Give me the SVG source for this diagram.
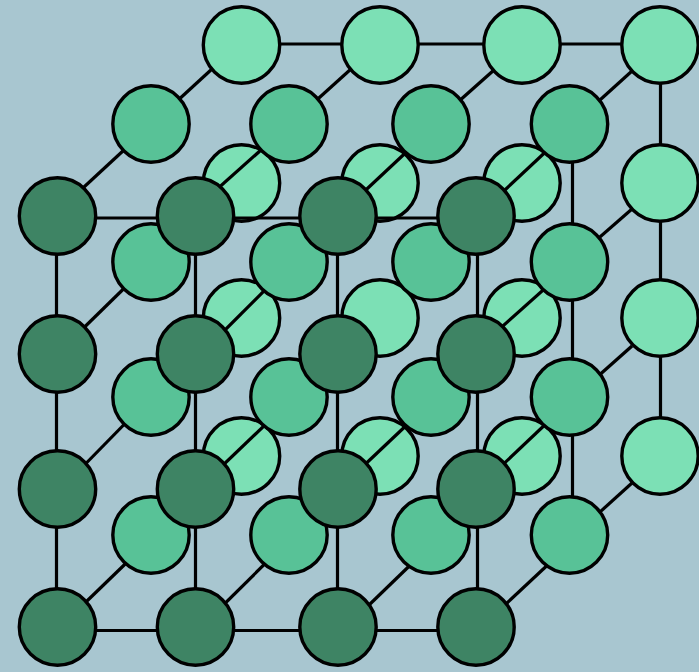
<svg xmlns="http://www.w3.org/2000/svg" width="699" height="672" viewBox="0 0 699 672">
<style>
.n{stroke:#000;stroke-width:3.4}
.b{fill:#7ce0b5}
.m{fill:#58c297}
.f{fill:#3e8464}
#connectors line{stroke:#000;stroke-width:3.2;fill:none}
</style>
<rect width="699" height="672" fill="#a8c6d0"/>
<g id="back-nodes">
<g id="b11"><circle class="n b" cx="241.5" cy="45" r="38.2"/></g>
<g id="b12"><circle class="n b" cx="380" cy="45" r="38.2"/></g>
<g id="b13"><circle class="n b" cx="522" cy="45" r="38.2"/></g>
<g id="b14"><circle class="n b" cx="660" cy="45" r="38.2"/></g>
<g id="b21"><circle class="n b" cx="241.5" cy="183" r="38.2"/></g>
<g id="b22"><circle class="n b" cx="380" cy="183" r="38.2"/></g>
<g id="b23"><circle class="n b" cx="522" cy="183" r="38.2"/></g>
<g id="b24"><circle class="n b" cx="660" cy="183" r="38.2"/></g>
<g id="b31"><circle class="n b" cx="241.5" cy="318" r="38.2"/></g>
<g id="b32"><circle class="n b" cx="380" cy="318" r="38.2"/></g>
<g id="b33"><circle class="n b" cx="522" cy="318" r="38.2"/></g>
<g id="b34"><circle class="n b" cx="660" cy="318" r="38.2"/></g>
<g id="b41"><circle class="n b" cx="241.5" cy="456" r="38.2"/></g>
<g id="b42"><circle class="n b" cx="380" cy="456" r="38.2"/></g>
<g id="b43"><circle class="n b" cx="522" cy="456" r="38.2"/></g>
<g id="b44"><circle class="n b" cx="660" cy="456" r="38.2"/></g>
</g>
<g id="connectors">
<line x1="279" y1="44" x2="342" y2="44"/>
<line x1="417" y1="44" x2="484" y2="44"/>
<line x1="559" y1="44" x2="622" y2="44"/>
<line x1="660.5" y1="83" x2="660.5" y2="145"/>
<line x1="660.5" y1="221" x2="660.5" y2="280"/>
<line x1="660.5" y1="356" x2="660.5" y2="418"/>
<line x1="572.5" y1="124" x2="572.5" y2="535"/>
<line x1="57" y1="218" x2="476" y2="218"/>
<line x1="57" y1="630.5" x2="476" y2="630.5"/>
<line x1="56.5" y1="216" x2="56.5" y2="627"/>
<line x1="195.5" y1="216" x2="195.5" y2="627"/>
<line x1="337.5" y1="216" x2="337.5" y2="627"/>
<line x1="477.5" y1="216" x2="477.5" y2="627"/>
<line x1="212" y1="69" x2="151" y2="125"/>
<line x1="351" y1="69" x2="289" y2="125"/>
<line x1="494" y1="70" x2="431" y2="126"/>
<line x1="632" y1="71" x2="569" y2="128"/>
<line x1="632" y1="209" x2="569" y2="264"/>
<line x1="632" y1="346" x2="569" y2="402"/>
<line x1="632" y1="483" x2="569" y2="540"/>
<line x1="151" y1="125" x2="57" y2="212"/>
<line x1="289" y1="125" x2="196" y2="208"/>
<line x1="431" y1="129" x2="338" y2="216"/>
<line x1="569" y1="130" x2="476" y2="217"/>
<line x1="151" y1="262" x2="57" y2="354"/>
<line x1="289" y1="266" x2="196" y2="359"/>
<line x1="569" y1="267" x2="476" y2="350"/>
<line x1="151" y1="397" x2="57" y2="493"/>
<line x1="289" y1="402" x2="196" y2="491"/>
<line x1="431" y1="402" x2="338" y2="490"/>
<line x1="569" y1="402" x2="476" y2="490"/>
<line x1="151" y1="539" x2="57" y2="630"/>
<line x1="289" y1="540" x2="196" y2="632"/>
<line x1="431" y1="545" x2="338" y2="635"/>
<line x1="569" y1="545" x2="476" y2="632"/>
</g>
<g id="middle-nodes">
<g id="m11"><circle class="n m" cx="151" cy="124" r="38.2"/></g>
<g id="m12"><circle class="n m" cx="289" cy="124" r="38.2"/></g>
<g id="m13"><circle class="n m" cx="431" cy="124" r="38.2"/></g>
<g id="m14"><circle class="n m" cx="569.5" cy="124" r="38.2"/></g>
<g id="m21"><circle class="n m" cx="151" cy="262" r="38.2"/></g>
<g id="m22"><circle class="n m" cx="289" cy="262" r="38.2"/></g>
<g id="m23"><circle class="n m" cx="431" cy="262" r="38.2"/></g>
<g id="m24"><circle class="n m" cx="569.5" cy="262" r="38.2"/></g>
<g id="m31"><circle class="n m" cx="151" cy="397" r="38.2"/></g>
<g id="m32"><circle class="n m" cx="289" cy="397" r="38.2"/></g>
<g id="m33"><circle class="n m" cx="431" cy="397" r="38.2"/></g>
<g id="m34"><circle class="n m" cx="569.5" cy="397" r="38.2"/></g>
<g id="m41"><circle class="n m" cx="151" cy="535" r="38.2"/></g>
<g id="m42"><circle class="n m" cx="289" cy="535" r="38.2"/></g>
<g id="m43"><circle class="n m" cx="431" cy="535" r="38.2"/></g>
<g id="m44"><circle class="n m" cx="569.5" cy="535" r="38.2"/></g>
</g>
<g id="front-nodes">
<g id="f11"><circle class="n f" cx="57.5" cy="216" r="38.2"/></g>
<g id="f12"><circle class="n f" cx="195.5" cy="216" r="38.2"/></g>
<g id="f13"><circle class="n f" cx="338" cy="216" r="38.2"/></g>
<g id="f14"><circle class="n f" cx="476" cy="216" r="38.2"/></g>
<g id="f21"><circle class="n f" cx="57.5" cy="354" r="38.2"/></g>
<g id="f22"><circle class="n f" cx="195.5" cy="354" r="38.2"/></g>
<g id="f23"><circle class="n f" cx="338" cy="354" r="38.2"/></g>
<g id="f24"><circle class="n f" cx="476" cy="354" r="38.2"/></g>
<g id="f31"><circle class="n f" cx="57.5" cy="489" r="38.2"/></g>
<g id="f32"><circle class="n f" cx="195.5" cy="489" r="38.2"/></g>
<g id="f33"><circle class="n f" cx="338" cy="489" r="38.2"/></g>
<g id="f34"><circle class="n f" cx="476" cy="489" r="38.2"/></g>
<g id="f41"><circle class="n f" cx="57.5" cy="627" r="38.2"/></g>
<g id="f42"><circle class="n f" cx="195.5" cy="627" r="38.2"/></g>
<g id="f43"><circle class="n f" cx="338" cy="627" r="38.2"/></g>
<g id="f44"><circle class="n f" cx="476" cy="627" r="38.2"/></g>
</g>
</svg>
